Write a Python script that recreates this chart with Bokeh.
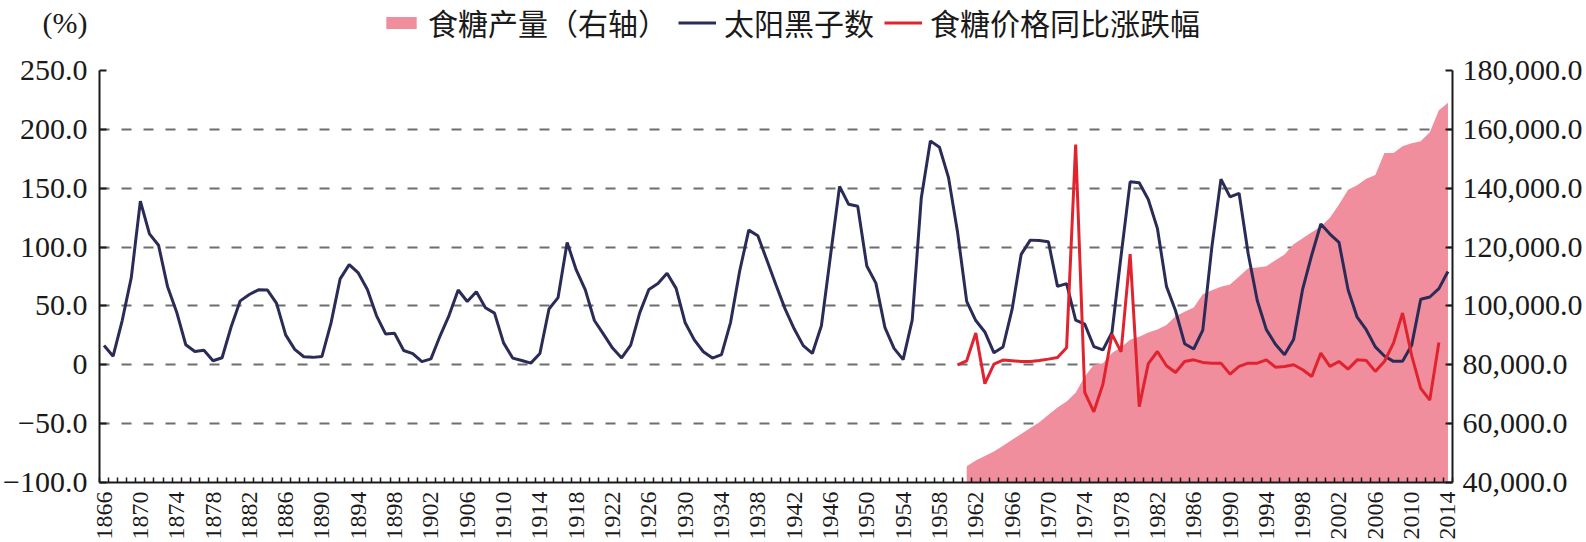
import math
from bokeh.plotting import figure
from bokeh.layouts import column
from bokeh.models import (Range1d, LinearAxis, FixedTicker, Legend, LegendItem)
from bokeh.embed import file_html
from bokeh.resources import INLINE

# ---------------- data ----------------
sun_years = list(range(1866, 2015))
sunspots = [16.3, 7.3, 37.6, 74.0, 139.0, 111.2, 101.6, 66.2, 44.7, 17.0,
            11.3, 12.4, 3.4, 6.0, 32.3, 54.3, 59.7, 63.7, 63.5, 52.2,
            25.4, 13.1, 6.8, 6.3, 7.1, 35.6, 73.0, 85.1, 78.0, 64.0,
            41.8, 26.2, 26.7, 12.1, 9.5, 2.7, 5.0, 24.4, 42.0, 63.5,
            53.8, 62.0, 48.5, 43.9, 18.6, 5.7, 3.6, 1.4, 9.6, 47.4,
            57.1, 103.9, 80.6, 63.6, 37.6, 26.1, 14.2, 5.8, 16.7, 44.3,
            63.9, 69.0, 77.8, 64.9, 35.7, 21.2, 11.1, 5.7, 8.7, 36.1,
            79.7, 114.4, 109.6, 88.8, 67.8, 47.5, 30.6, 16.3, 9.6, 33.2,
            92.6, 151.6, 136.3, 134.7, 83.9, 69.4, 31.5, 13.9, 4.4, 38.0,
            141.7, 190.2, 184.8, 159.0, 112.3, 53.9, 37.6, 27.9, 10.2, 15.1,
            47.0, 93.8, 105.9, 105.5, 104.5, 66.6, 68.9, 38.0, 34.5, 15.5,
            12.6, 27.5, 92.5, 155.4, 154.6, 140.4, 115.9, 66.6, 45.9, 17.9,
            13.4, 29.4, 100.2, 157.6, 142.6, 145.7, 94.3, 54.6, 29.9, 17.5,
            8.6, 21.5, 64.3, 93.3, 119.6, 111.0, 104.0, 63.7, 40.4, 29.8,
            15.2, 7.5, 2.9, 3.1, 16.5, 55.7, 57.6, 64.7, 79.3]

price_years = list(range(1960, 2014))
price_change = [0.0, 3.4, 27.0, -16.0, 0.5, 4.0, 3.5, 2.8, 2.8, 3.7,
                4.8, 6.2, 14.4, 187.0, -23.5, -40.0, -16.5, 26.0, 11.0, 94.0,
                -35.5, 1.0, 11.3, -0.8, -6.5, 2.8, 4.2, 2.0, 1.4, 1.4,
                -7.9, -1.4, 1.4, 1.4, 4.2, -2.0, -1.4, 0.0, -4.2, -9.9,
                9.9, -1.4, 2.8, -3.7, 4.2, 3.7, -5.6, 2.8, 18.4, 44.0,
                8.0, -20.0, -30.0, 19.0]

sugar_years = list(range(1961, 2015))
sugar_output = [45500, 47500, 49000, 50500, 52500, 54500, 56500, 58500, 60500, 63000,
                65500, 67500, 70500, 76000, 80000, 80500, 84000, 86000, 88500, 89500,
                91000, 92000, 93500, 96500, 98000, 99500, 104000, 105300, 106500, 107300,
                110000, 112800, 113100, 113500, 115500, 117500, 121000, 123000, 125000, 127000,
                130000, 134500, 139500, 141000, 143200, 144500, 152000, 152000, 154300, 155300,
                156000, 159000, 166500, 169000]

left_ticks = [-100, -50, 0, 50, 100, 150, 200, 250]
left_tick_labels = ["\u2212100.0", "\u221250.0", "0", "50.0", "100.0", "150.0", "200.0", "250.0"]
right_ticks = [40000, 60000, 80000, 100000, 120000, 140000, 160000, 180000]
right_tick_labels = ["40,000.0", "60,000.0", "80,000.0", "100,000.0",
                     "120,000.0", "140,000.0", "160,000.0", "180,000.0"]
x_label_years = list(range(1866, 2015, 4))
x_tick_labels = [str(y) for y in x_label_years]

series_names = ["食糖产量（右轴）", "太阳黑子数", "食糖价格同比涨跌幅"]
unit_text = "(%)"

# ---------------- styles ----------------
SERIF = "Liberation Serif"
CJK = "Noto Sans CJK SC"
PINK = "#F18E9E"
NAVY = "#2A2C57"
RED = "#E0232E"
INK = "#1a1a1a"
W = 1586
HEAD_H = 44
MAIN_H = 542 - HEAD_H

# ---------------- header (unit + legend) ----------------
head = figure(width=W, height=HEAD_H, x_range=Range1d(0, 10), y_range=Range1d(0, 10),
              output_backend="svg", toolbar_location=None,
              x_axis_type=None, y_axis_type=None,
              min_border_left=0, min_border_right=0, min_border_top=0, min_border_bottom=0)
head.outline_line_color = None
head.xgrid.visible = False
head.ygrid.visible = False

# legend keys (their single data point lies outside the visible range)
k_area = head.varea(x=[-5, -4], y1=[-5, -5], y2=[-4, -4], fill_color=PINK)
k_navy = head.line(x=[-5, -4], y=[-5, -5], line_color=NAVY, line_width=3)
k_red = head.line(x=[-5, -4], y=[-5, -5], line_color=RED, line_width=3)

legend = Legend(items=[LegendItem(label=series_names[0], renderers=[k_area]),
                       LegendItem(label=series_names[1], renderers=[k_navy]),
                       LegendItem(label=series_names[2], renderers=[k_red])],
                orientation="horizontal", location=(283, 0),
                label_text_font=CJK, label_text_font_size="30px",
                label_text_color=INK,
                glyph_width=38, glyph_height=15, label_standoff=8,
                spacing=10, padding=0, margin=0,
                border_line_color=None, background_fill_alpha=0)
head.add_layout(legend)

# unit label as the (tick-less) left axis title of the header strip
unit_axis = LinearAxis(ticker=FixedTicker(ticks=[]), axis_label=unit_text,
                       axis_label_orientation="horizontal",
                       axis_label_standoff=12,
                       axis_label_text_font=SERIF,
                       axis_label_text_font_size="30px",
                       axis_label_text_font_style="normal",
                       axis_label_text_color=INK,
                       axis_line_color=None, major_tick_line_color=None,
                       minor_tick_line_color=None)
head.add_layout(unit_axis, "left")

# ---------------- main chart ----------------
p = figure(width=W, height=MAIN_H,
           x_range=Range1d(1865.5, 2014.5), y_range=Range1d(-100, 250),
           output_backend="svg", toolbar_location=None,
           min_border_left=98, min_border_right=134,
           min_border_top=70 - HEAD_H, min_border_bottom=59)
p.extra_y_ranges = {"right": Range1d(40000, 180000)}
p.outline_line_color = None

p.xgrid.visible = False
p.ygrid.ticker = FixedTicker(ticks=[t for t in left_ticks if t > -100])
p.ygrid.grid_line_color = "#6e6e6e"
p.ygrid.grid_line_width = 2
p.ygrid.grid_line_dash = "10 12"

area = p.varea(x=sugar_years, y1=40000, y2=sugar_output,
               y_range_name="right", fill_color=PINK, fill_alpha=1.0)
navy = p.line(sun_years, sunspots, line_color=NAVY, line_width=3)
red = p.line(price_years, price_change, line_color=RED, line_width=3)

ly = p.yaxis[0]
ly.ticker = FixedTicker(ticks=left_ticks)
ly.major_label_overrides = dict(zip(left_ticks, left_tick_labels))
ly.major_label_text_font = SERIF
ly.major_label_text_font_size = "30px"
ly.major_label_text_color = INK
ly.major_label_standoff = 12
ly.major_tick_in = 7
ly.major_tick_out = 0
ly.minor_tick_line_color = None
ly.axis_line_color = INK
ly.axis_line_width = 2
ly.major_tick_line_color = INK
ly.major_tick_line_width = 2

ry = LinearAxis(y_range_name="right", ticker=FixedTicker(ticks=right_ticks))
ry.major_label_overrides = dict(zip(right_ticks, right_tick_labels))
ry.major_label_text_font = SERIF
ry.major_label_text_font_size = "30px"
ry.major_label_text_color = INK
ry.major_label_standoff = 10
ry.major_tick_in = 7
ry.major_tick_out = 0
ry.minor_tick_line_color = None
ry.axis_line_color = INK
ry.axis_line_width = 2
ry.major_tick_line_color = INK
ry.major_tick_line_width = 2
p.add_layout(ry, "right")

bx = p.xaxis[0]
bx.ticker = FixedTicker(ticks=x_label_years,
                        minor_ticks=[y - 0.5 for y in sun_years] + [2014.5])
bx.major_label_overrides = dict(zip(x_label_years, x_tick_labels))
bx.major_label_orientation = math.pi / 2
bx.major_label_text_font = SERIF
bx.major_label_text_font_size = "24px"
bx.major_label_text_color = INK
bx.major_label_standoff = 9
bx.major_tick_in = 0
bx.major_tick_out = 0
bx.minor_tick_in = 5
bx.minor_tick_out = 0
bx.minor_tick_line_color = INK
bx.minor_tick_line_width = 1.5
bx.axis_line_color = INK
bx.axis_line_width = 2

layout = column(head, p, spacing=0)
open("out.html", "w").write(file_html(layout, INLINE))
